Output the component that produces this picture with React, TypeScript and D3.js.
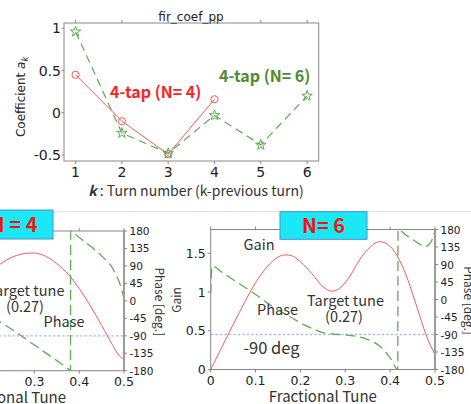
import React from "react";
import * as d3 from "d3";

// ---- top chart data ----
const taps4 = [1, 2, 3, 4];
const coef4 = [0.45, -0.1, -0.49, 0.16];
const taps6 = [1, 2, 3, 4, 5, 6];
const coef6 = [0.96, -0.24, -0.48, -0.03, -0.38, 0.2];
const topXTicks = [1, 2, 3, 4, 5, 6];
const topYTicks = [-0.5, 0, 0.5, 1];
const topYTickLabels = ["-0.5", "0", "0.5", "1"];

// ---- bottom left (N=4) ----
const tuneGain4 = [0.15, 0.2, 0.25, 0.29, 0.3, 0.325, 0.35, 0.375, 0.4, 0.425, 0.45, 0.475, 0.49, 0.5];
const gain4 = [0.63, 0.84, 0.975, 1.01, 1.01, 0.983, 0.92, 0.83, 0.705, 0.557, 0.39, 0.217, 0.126, 0.1];
const tunePhase4 = [0.15, 0.2, 0.25, 0.3, 0.325, 0.35, 0.375, 0.3805, 0.381, 0.4, 0.425, 0.45, 0.475, 0.49, 0.5];
const phase4 = [-2, -37, -74, -114, -134, -154, -175, -180, 180, 163, 141, 116, 83, 46, 8];

// ---- bottom right (N=6) ----
const tuneGain6 = [0, 0.025, 0.05, 0.075, 0.1, 0.125, 0.15, 0.166, 0.18, 0.2, 0.225, 0.25, 0.27, 0.29, 0.31, 0.33, 0.35, 0.377, 0.4, 0.42, 0.44, 0.46, 0.48, 0.5];
const gain6 = [0, 0.29, 0.58, 0.86, 1.12, 1.32, 1.45, 1.48, 1.47, 1.39, 1.24, 1.07, 1.01, 1.06, 1.2, 1.4, 1.55, 1.65, 1.59, 1.42, 1.15, 0.8, 0.45, 0.19];
const tunePhase6 = [0, 0.003, 0.025, 0.05, 0.075, 0.1, 0.125, 0.15, 0.175, 0.2, 0.225, 0.25, 0.275, 0.3, 0.325, 0.35, 0.375, 0.4, 0.417, 0.4175, 0.435, 0.45, 0.465, 0.477, 0.487, 0.495, 0.5];
const phase6 = [15, 86, 70, 51, 32, 13, -8, -27, -43, -60, -74, -85, -89, -91, -95, -103, -118, -150, -180, 180, 166, 155, 143, 136, 142, 158, 178];

const tuneTicks = [0, 0.1, 0.2, 0.3, 0.4, 0.5];
const tuneTickLabels = ["0", "0.1", "0.2", "0.3", "0.4", "0.5"];
const phaseTicks = [-180, -135, -90, -45, 0, 45, 90, 135, 180];
const gainTicks = [0, 0.5, 1, 1.5];
const gainTickLabels = ["0", "0.5", "1", "1.5"];

const TICKF = "'DejaVu Sans', sans-serif";
const JPF = "'Noto Sans CJK JP', 'Noto Sans', sans-serif";
const AXC = "#888";
const RED = "#f25a5a";
const GREEN = "#5aae4e";

type BodeProps = {
  id: string;
  x0: number; x1: number; y0: number; y1: number;
  gainMax: number;
  tg: number[]; g: number[]; tp: number[]; p: number[];
  showGainTicks: boolean;
  phaseLabelOffset: number;
};

function Bode(props: BodeProps) {
  const { id, x0, x1, y0, y1, gainMax, tg, g, tp, p, showGainTicks, phaseLabelOffset } = props;
  const x = d3.scaleLinear().domain([0, 0.5]).range([x0, x1]);
  const yP = d3.scaleLinear().domain([-180, 180]).range([y1, y0]);
  const yG = d3.scaleLinear().domain([0, gainMax]).range([y1, y0]);
  const gainLine = d3.line<number>().x((_, i) => x(tg[i])).y((d) => yG(d)).curve(d3.curveMonotoneX);
  const phaseLine = d3.line<number>().x((_, i) => x(tp[i])).y((d) => yP(d)).curve(d3.curveMonotoneX);
  return (
    <g>
      <defs>
        <clipPath id={id}>
          <rect x={x0} y={y0 - 1} width={x1 - x0} height={y1 - y0 + 2} />
        </clipPath>
      </defs>
      <line x1={x0} x2={x1} y1={yP(-90)} y2={yP(-90)} stroke="#a9bff0" strokeWidth={1.3} strokeDasharray="2.5,2" />
      <g clipPath={`url(#${id})`}>
        <path d={gainLine(g) || ""} fill="none" stroke={RED} strokeWidth={1} />
        <path d={phaseLine(p) || ""} fill="none" stroke={GREEN} strokeWidth={1.3} strokeDasharray="10,5" />
      </g>
      <rect x={x0} y={y0} width={x1 - x0} height={y1 - y0} fill="none" stroke={AXC} strokeWidth={1} />
      <line x1={x1} x2={x1} y1={y0} y2={y1} stroke="#999" strokeWidth={1.8} />
      {tuneTicks.map((t, i) => (
        <g key={"xt" + i}>
          <line x1={x(t)} x2={x(t)} y1={y1} y2={y1 + 3} stroke={AXC} />
          <line x1={x(t)} x2={x(t)} y1={y0} y2={y0 - 3} stroke={AXC} />
          {x(t) > 5 && (
            <text x={x(t)} y={y1 + 15.5} textAnchor="middle" fontFamily={TICKF} fontSize={12.5} fill="#222">{tuneTickLabels[i]}</text>
          )}
        </g>
      ))}
      {phaseTicks.map((t, i) => (
        <g key={"pt" + i}>
          <line x1={x1} x2={x1 + 3} y1={yP(t)} y2={yP(t)} stroke={AXC} />
          <text x={x1 + 5.5} y={yP(t) + 4} fontFamily={TICKF} fontSize={10.5} fill="#222">{t}</text>
        </g>
      ))}
      {showGainTicks && gainTicks.map((t, i) => (
        <g key={"gt" + i}>
          <line x1={x0} x2={x0 - 3} y1={yG(t)} y2={yG(t)} stroke={AXC} />
          <text x={x0 - 5} y={yG(t) + 4.5} textAnchor="end" fontFamily={TICKF} fontSize={12.5} fill="#222">{gainTickLabels[i]}</text>
        </g>
      ))}
      <text x={(x0 + x1) / 2} y={y1 + 32} textAnchor="middle" fontFamily={JPF} fontSize={15} fill="#333">Fractional Tune</text>
      <text transform={`translate(${x1 + phaseLabelOffset},${(y0 + y1) / 2 + 1}) rotate(90)`} textAnchor="middle" fontFamily={JPF} fontSize={12} fill="#333">Phase [deg.]</text>
    </g>
  );
}

export default function App() {
  const xT = d3.scaleLinear().domain([0.75, 6.25]).range([64, 318.7]);
  const yT = d3.scaleLinear().domain([-0.571, 1.063]).range([161, 23]);
  const pts4 = coef4.map((c, i) => [xT(taps4[i]), yT(c)] as [number, number]);
  const pts6 = coef6.map((c, i) => [xT(taps6[i]), yT(c)] as [number, number]);
  const lineXY = d3.line<[number, number]>();
  const star = d3.symbol(d3.symbolStar, 34)() || "";

  return (
    <svg width={471} height={404} style={{ position: "absolute", left: 0, top: 0, background: "#fff" }}>
      <rect width={471} height={404} fill="#fff" />
      {/* ---------- top chart ---------- */}
      <text x={191} y={21} textAnchor="middle" fontFamily={TICKF} fontSize={12} fill="#222">fir_coef_pp</text>
      <path d={lineXY(pts6) || ""} fill="none" stroke={GREEN} strokeWidth={1.2} strokeDasharray="8,5" />
      <path d={lineXY(pts4) || ""} fill="none" stroke={RED} strokeWidth={1} />
      {pts4.map((p, i) => (
        <circle key={"c" + i} cx={p[0]} cy={p[1]} r={3.6} fill="none" stroke={RED} strokeWidth={1} />
      ))}
      {pts6.map((p, i) => (
        <path key={"s" + i} d={star} transform={`translate(${p[0]},${p[1]})`} fill="none" stroke={GREEN} strokeWidth={1} />
      ))}
      <rect x={64} y={23} width={254.7} height={138} fill="none" stroke={AXC} strokeWidth={1} />
      {topXTicks.map((t) => (
        <g key={"tx" + t}>
          <line x1={xT(t)} x2={xT(t)} y1={161} y2={164} stroke={AXC} />
          <line x1={xT(t)} x2={xT(t)} y1={23} y2={20} stroke={AXC} />
          <text x={xT(t)} y={177} textAnchor="middle" fontFamily={TICKF} fontSize={14} fill="#222">{t}</text>
        </g>
      ))}
      {topYTicks.map((t, i) => (
        <g key={"ty" + i}>
          <line x1={64} x2={61.5} y1={yT(t)} y2={yT(t)} stroke={AXC} />
          <text x={61} y={yT(t) + 5} textAnchor="end" fontFamily={TICKF} fontSize={14} fill="#222">{topYTickLabels[i]}</text>
        </g>
      ))}
      <text transform="translate(25,97) rotate(-90)" textAnchor="middle" fontFamily={TICKF} fontSize={12} fill="#222">
        Coefficient <tspan fontStyle="italic">a</tspan><tspan fontStyle="italic" fontSize={8} dy={3}>k</tspan>
      </text>
      <text x={196} y={196} textAnchor="middle" fontFamily={JPF} fontSize={14} fill="#333">
        <tspan fontWeight="bold" fontStyle="italic">k</tspan> : Turn number (k-previous turn)
      </text>
      <text x={110} y={98} fontFamily={JPF} fontSize={16} fontWeight="bold" fill="#ff2222">4-tap (N= 4)</text>
      <text x={219} y={82} fontFamily={JPF} fontSize={16} fontWeight="bold" fill="#4f8a2c">4-tap (N= 6)</text>

      {/* separator */}
      <line x1={0} x2={471} y1={211.5} y2={211.5} stroke="#e2e2e2" strokeWidth={1} />

      {/* ---------- bottom left (N=4) ---------- */}
      <Bode id="clipL" x0={-100} x1={124} y0={231} y1={370.7} gainMax={1.2}
        tg={tuneGain4} g={gain4} tp={tunePhase4} p={phase4} showGainTicks={false} phaseLabelOffset={30.5} />
      <text x={26} y={296} textAnchor="middle" fontFamily={JPF} fontSize={14.5} fill="#333">Target tune</text>
      <text x={25} y={312} textAnchor="middle" fontFamily={JPF} fontSize={14.5} fill="#333">(0.27)</text>
      <text x={64} y={327} textAnchor="middle" fontFamily={JPF} fontSize={14.5} fill="#333">Phase</text>
      <rect x={-34} y={210} width={87} height={29} fill="#1ae9f5" stroke="#4a90d0" strokeWidth={1} />
      <text x={37.5} y={232} textAnchor="end" fontFamily={JPF} fontSize={20} fontWeight="bold" fill="#ff1010">N = 4</text>

      {/* ---------- bottom right (N=6) ---------- */}
      <Bode id="clipR" x0={210.7} x1={435} y0={229.5} y1={369.5} gainMax={1.807}
        tg={tuneGain6} g={gain6} tp={tunePhase6} p={phase6} showGainTicks={true} phaseLabelOffset={28.5} />
      <text transform="translate(181,300) rotate(-90)" textAnchor="middle" fontFamily={JPF} fontSize={12} fill="#333">Gain</text>
      <text x={259} y={250} textAnchor="middle" fontFamily={JPF} fontSize={14.5} fill="#333">Gain</text>
      <text x={277.5} y={315} textAnchor="middle" fontFamily={JPF} fontSize={14.5} fill="#333">Phase</text>
      <text x={345.5} y={306} textAnchor="middle" fontFamily={JPF} fontSize={14.5} fill="#333">Target tune</text>
      <text x={344} y={322} textAnchor="middle" fontFamily={JPF} fontSize={14.5} fill="#333">(0.27)</text>
      <text x={271.5} y={354} textAnchor="middle" fontFamily={JPF} fontSize={16.5} fill="#333">-90 deg</text>
      <rect x={280} y={211.7} width={87} height={27.6} fill="#1ae9f5" stroke="#4a90d0" strokeWidth={1} />
      <text x={323.5} y={232.5} textAnchor="middle" fontFamily={JPF} fontSize={20} fontWeight="bold" fill="#ff1010">N= 6</text>
    </svg>
  );
}
